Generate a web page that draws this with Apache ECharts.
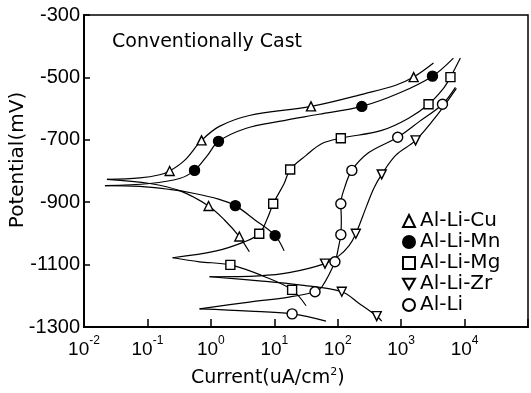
<!DOCTYPE html>
<html>
<head>
<meta charset="utf-8">
<script src="https://cdn.jsdelivr.net/npm/echarts@6/dist/echarts.min.js"></script>
<style>html,body{margin:0;padding:0;background:#fff;}#c{width:531px;height:393px;}</style>
</head>
<body>
<div id="c"></div>
<script>
// ---- data (current in uA/cm2, potential in mV) ----
const names = ['Al-Li-Cu', 'Al-Li-Mn', 'Al-Li-Mg', 'Al-Li-Zr', 'Al-Li'];
const yTicks = [-1300, -1100, -900, -700, -500, -300];

const cuMarks = [[0.224, -800], [0.713, -702], [37.9, -593], [1574, -499], [0.92, -912], [2.81, -1010]];
const cuAnodic = [[0.023, -827], [0.0757, -822], [0.156, -812], [0.224, -800], [0.385, -766], [0.713, -702], [1.36, -657], [4.04, -622], [37.9, -593], [277, -551], [820, -525], [1574, -499], [3236, -454]];
const cuCathodic = [[0.023, -827], [0.109, -840], [0.321, -863], [0.92, -912], [1.64, -957], [2.81, -1010], [4.04, -1059]];

const mnMarks = [[0.553, -798], [1.32, -705], [240, -593], [3120, -496], [2.43, -911], [10.3, -1007]];
const mnAnodic = [[0.0214, -847], [0.109, -840], [0.321, -824], [0.553, -798], [0.885, -750], [1.32, -705], [3.62, -663], [11.9, -641], [50.7, -618], [240, -593], [914, -551], [3120, -496], [6670, -438]];
const mnCathodic = [[0.0214, -847], [0.0757, -849], [0.224, -859], [0.553, -872], [1.32, -890], [2.43, -911], [4.9, -956], [10.3, -1007], [14.3, -1056]];

const mgMarks = [[5.79, -1001], [9.61, -905], [17.8, -795], [112, -695], [2704, -586], [5990, -499], [2.03, -1101], [19.1, -1181]];
const mgAnodic = [[0.249, -1078], [1.22, -1056], [3.37, -1027], [5.79, -1001], [7.74, -953], [9.61, -905], [14.3, -840], [17.8, -795], [31.7, -750], [56.5, -712], [112, -695], [494, -670], [1313, -631], [2704, -586], [4650, -535], [5990, -499], [8590, -438]];
const mgCathodic = [[0.249, -1078], [0.663, -1091], [2.03, -1101], [6.94, -1138], [19.1, -1181], [31.7, -1232]];

const zrMarks = [[63, -1097], [193, -1001], [494, -811], [1690, -702], [116, -1187], [412, -1265]];
const zrAnodic = [[0.951, -1139], [5.79, -1136], [17.1, -1126], [63, -1097], [104, -1072], [150, -1040], [193, -1001], [287, -911], [370, -856], [494, -811], [820, -750], [1690, -702], [3878, -615], [7430, -535]];
const zrCathodic = [[0.951, -1139], [5.79, -1152], [24.6, -1165], [116, -1187], [215, -1224], [412, -1265], [494, -1281]];

const liMarks = [[90.4, -1091], [112, -1004], [112, -905], [167, -798], [882, -692], [4483, -586], [43.9, -1187], [19.1, -1258]];
const liAnodic = [[0.663, -1242], [4.04, -1220], [17.1, -1204], [43.9, -1187], [56.5, -1171], [90.4, -1091], [104, -1040], [112, -1004], [114, -955], [112, -905], [130, -850], [167, -798], [309, -741], [882, -692], [1950, -641], [4483, -586], [7170, -532]];
const liCathodic = [[0.663, -1242], [4.04, -1249], [19.1, -1258], [65.3, -1281]];

// ---- chart ----
const downTri = 'path://M0,0L20,0L10,17.3Z';
const font = '"DejaVu Sans", sans-serif';

function curve(name, data) {
  return {
    name: name, type: 'line', data: data, smooth: 0.35, showSymbol: false, silent: true,
    lineStyle: { color: '#000', width: 1.2 }, z: 2
  };
}
function marks(name, data, symbol, filled, size) {
  return {
    name: name, type: 'scatter', data: data, symbol: symbol, symbolSize: size, silent: true,
    itemStyle: { color: filled ? '#000' : '#fff', borderColor: '#000', borderWidth: 1.4, opacity: 1 }, z: 3
  };
}

const series = [
  curve('cuA', cuAnodic), curve('cuC', cuCathodic),
  curve('mnA', mnAnodic), curve('mnC', mnCathodic),
  curve('mgA', mgAnodic), curve('mgC', mgCathodic),
  curve('zrA', zrAnodic), curve('zrC', zrCathodic),
  curve('liA', liAnodic), curve('liC', liCathodic),
  marks(names[0], cuMarks, 'triangle', false, 9),
  marks(names[1], mnMarks, 'circle', true, 10),
  marks(names[2], mgMarks, 'rect', false, 9),
  marks(names[3], zrMarks, downTri, false, 9),
  marks(names[4], liMarks, 'circle', false, 10)
];

const chart = echarts.init(document.getElementById('c'), null, { renderer: 'canvas' });
chart.setOption({
  animation: false,
  backgroundColor: '#fff',
  title: [
    { text: 'Conventionally Cast', left: 112, top: 33, padding: 0,
      textStyle: { fontFamily: font, fontSize: 19, fontWeight: 'normal', color: '#000' } },
    { text: '{a|Current(uA/cm}{s|2}{a|)}', left: 191, top: 367, padding: 0,
      textStyle: { fontWeight: 'normal', rich: {
        a: { fontFamily: font, fontSize: 19, fontWeight: 'normal', color: '#000', lineHeight: 22 },
        s: { fontFamily: font, fontSize: 11, fontWeight: 'normal', color: '#000', verticalAlign: 'top', lineHeight: 22 }
      } } }
  ],
  graphic: [
    { type: 'text', x: 18, y: 160, rotation: Math.PI / 2,
      style: { text: 'Potential(mV)', font: '20px "DejaVu Sans"', fill: '#000', align: 'center', verticalAlign: 'middle' } }
  ],
  grid: { left: 84, right: 1, top: 15, bottom: 66, show: true, borderColor: '#000', borderWidth: 1.5, containLabel: false },
  legend: {
    orient: 'vertical', left: 397, top: 206, itemWidth: 12, itemHeight: 12, itemGap: 1,
    selectedMode: false, data: names,
    textStyle: { fontFamily: font, fontSize: 20, color: '#000' }
  },
  xAxis: {
    type: 'log', logBase: 10, min: 0.01, max: 100000,
    axisLine: { show: true, lineStyle: { color: '#000', width: 2 } },
    axisTick: { show: true, inside: true, length: 8, lineStyle: { color: '#000', width: 1.5 } },
    minorTick: { show: false }, splitLine: { show: false },
    axisLabel: {
      margin: 8,
      formatter: function (v) {
        const e = Math.round(Math.log10(v));
        if (e >= 5) return '';
        return '{b|10}{e|' + e + '}';
      },
      rich: {
        b: { fontFamily: 'Liberation Sans', fontSize: 19, color: '#000', lineHeight: 24, verticalAlign: 'bottom' },
        e: { fontFamily: 'Liberation Sans', fontSize: 12, color: '#000', lineHeight: 24, verticalAlign: 'top' }
      }
    }
  },
  yAxis: {
    type: 'value', min: -1300, max: -300, interval: 100,
    axisLine: { show: true, lineStyle: { color: '#000', width: 2 } },
    axisTick: { show: true, inside: true, length: 6, customValues: yTicks, lineStyle: { color: '#000', width: 1.5 } },
    splitLine: { show: false },
    axisLabel: { customValues: yTicks, formatter: function (v) { return String(v); },
      fontFamily: 'Liberation Sans', fontSize: 20, color: '#000', margin: 4 }
  },
  series: series
});
</script>
</body>
</html>
